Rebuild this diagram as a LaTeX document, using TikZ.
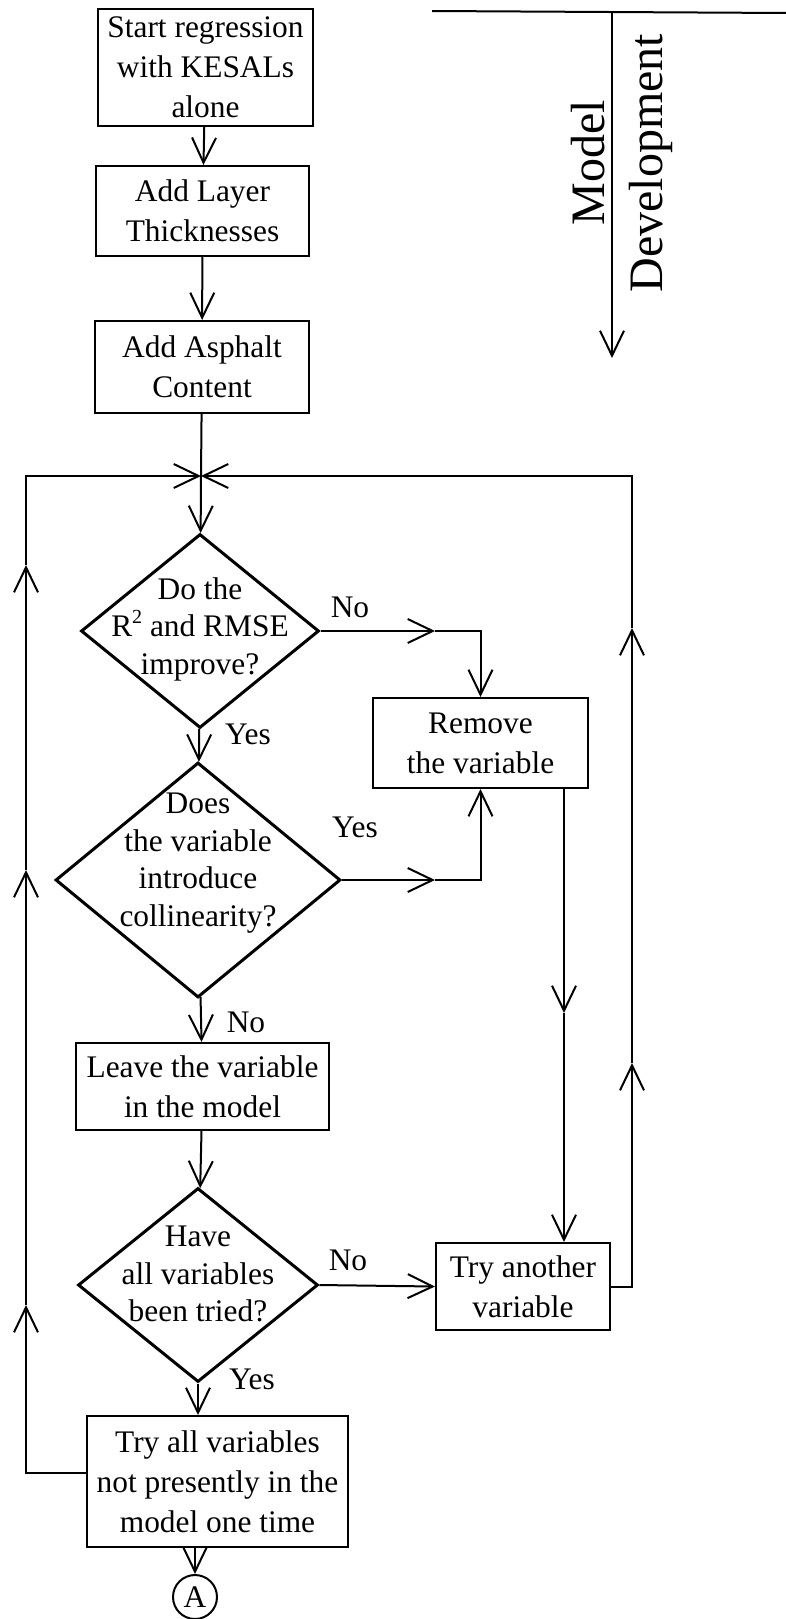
\documentclass[tikz,border=0pt]{standalone}
\usepackage{fontspec}
\setmainfont{Liberation Serif}
\usetikzlibrary{positioning, arrows.meta, shapes.geometric, calc}
\tikzset{
    block/.style={draw, line width=2pt, align=center, inner sep=0pt,
        font=\fontsize{31.4}{40}\selectfont},
    decision/.style={draw, diamond, line width=3pt, inner sep=0pt},
    dtext/.style={align=center, inner sep=0pt, font=\fontsize{31.4}{37.5}\selectfont},
    lbl/.style={inner sep=0pt, font=\fontsize{31.4}{40}\selectfont},
    flow/.style={line width=2pt, -{Straight Barb[length=25pt, width=24pt]}},
    line/.style={line width=2pt},
}
\newcommand{\sqr}{\raisebox{0.42em}{\fontsize{20}{20}\selectfont 2}}

\begin{document}
\begin{tikzpicture}[x=1pt, y=-1pt]
    \useasboundingbox (0,0) rectangle (786,1619);

    % main column
    \node[block, minimum width=215, minimum height=117] (start) at (205.5,67.5) {Start regression\\with KESALs\\alone};
    \node[block, minimum width=213, minimum height=90] (layer) at (202.5,211) {Add Layer\\Thicknesses};
    \node[block, minimum width=214, minimum height=92] (asphalt) at (202,367) {Add Asphalt\\Content};
    \node[decision, minimum width=238, minimum height=194,
        label={[dtext, yshift=2]center:Do the\\R\sqr{} and RMSE\\improve?}] (improve) at (200,631) {};
    \node[decision, minimum width=285, minimum height=235,
        label={[dtext, yshift=17]center:Does\\the variable\\introduce\\collinearity?}] (colin) at (198,880) {};
    \node[block, minimum width=253, minimum height=87] (leave) at (202.5,1086.5) {Leave the variable\\in the model};
    \node[decision, minimum width=240, minimum height=194,
        label={[dtext, yshift=11]center:Have\\all variables\\been tried?}] (tried) at (198,1285) {};
    \node[block, minimum width=261, minimum height=131] (tryall) at (217.5,1481.5) {Try all variables\\not presently in the\\model one time};
    \node[draw, circle, line width=2pt, minimum size=44, inner sep=0pt,
        font=\fontsize{31.4}{40}\selectfont] (A) at (195,1597) {A};

    % right column
    \node[block, minimum width=215, minimum height=90] (remove) at (480.5,743) {Remove\\the variable};
    \node[block, minimum width=174, minimum height=87] (another) at (523,1286.5) {Try another\\variable};

    % model development arrow
    \coordinate (tl) at (432,11);
    \coordinate (tr) at (786,13);
    \coordinate (dtop) at (612,12);
    \coordinate (dend) at (612,358);
    \draw[line] (tl) -- (tr);
    \draw[flow] (dtop) -- (dend);
    \node[rotate=90, align=center, inner sep=0pt, font=\fontsize{48}{58}\selectfont] (devlabel) at (622,163) {Model\\Development};

    % loop coordinates
    \coordinate (j) at (201,476);
    \coordinate (lt) at (26,476);
    \coordinate (lb) at (26,1473);
    \coordinate (l1) at (26,565);
    \coordinate (l2) at (26,870);
    \coordinate (l3) at (26,1305);
    \coordinate (rt) at (632,476);
    \coordinate (r1) at (632,628);
    \coordinate (r2) at (632,1063);
    \coordinate (m1) at (564,1013);
    \coordinate (n1) at (435,631);
    \coordinate (y1) at (435,880);

    % main flow
    \draw[flow] (start) -- (layer);
    \draw[flow] (layer) -- (asphalt);
    \draw[line] (asphalt) -- (j);
    \draw[flow] (j) -- (improve);
    \draw[flow] (improve) -- (colin);
    \draw[flow] (colin) -- (leave);
    \draw[flow] (leave) -- (tried);
    \draw[flow] (tried.south) -- (tried.south |- tryall.north);
    \draw[flow] (A.north |- tryall.south) -- (A);

    % branches
    \draw[flow] (improve.east) -- (n1);
    \draw[flow] (n1) -| (remove.north);
    \draw[flow] (colin.east) -- (y1);
    \draw[flow] (y1) -| (remove.south);
    \draw[flow] (remove.south -| m1) -- (m1);
    \draw[flow] (m1) -- (m1 |- another.north);
    \draw[flow] (tried.east) -- (another.west);

    % loops back
    \draw[flow] (another.east) -| (r2);
    \draw[flow] (r2) -- (r1);
    \draw[flow] (r1) -- (rt) -- (j);
    \draw[flow] (lb -| tryall.west) -- (lb) -- (l3);
    \draw[flow] (l3) -- (l2);
    \draw[flow] (l2) -- (l1);
    \draw[flow] (l1) -- (lt) -- (j);

    % labels
    \node[lbl] (no1) at (350,607) {No};
    \node[lbl] (yes1) at (248,734) {Yes};
    \node[lbl] (yes2) at (355,827) {Yes};
    \node[lbl] (no2) at (246,1022) {No};
    \node[lbl] (no3) at (348,1260) {No};
    \node[lbl] (yes3) at (252,1379) {Yes};
\end{tikzpicture}
\end{document}
